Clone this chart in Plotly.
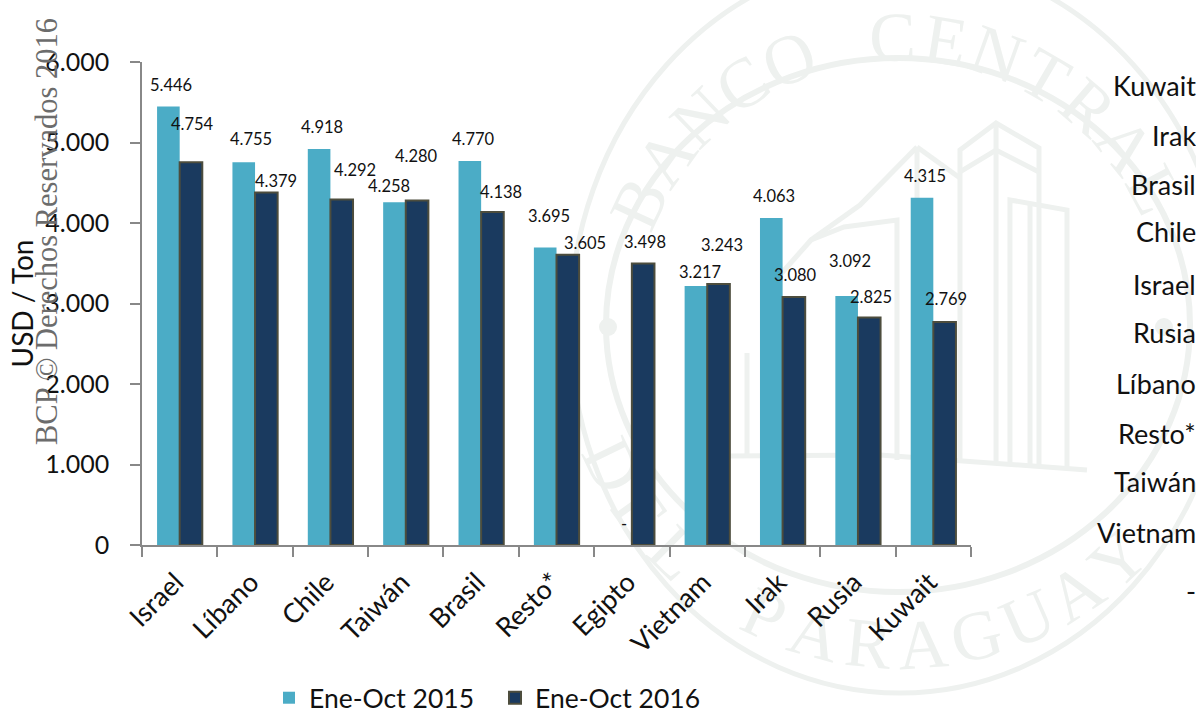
import math
import plotly.graph_objects as go

W, H = 1196, 713
L, R, T, B = 142, 971, 62, 545

categories = ["Israel", "Líbano", "Chile", "Taiwán", "Brasil", "Resto*", "Egipto", "Vietnam", "Irak", "Rusia", "Kuwait"]
ene_oct_2015 = [5446, 4755, 4918, 4258, 4770, 3695, 0, 3217, 4063, 3092, 4315]
ene_oct_2016 = [4754, 4379, 4292, 4280, 4138, 3605, 3498, 3243, 3080, 2825, 2769]
y_ticks = [0, 1000, 2000, 3000, 4000, 5000, 6000]
side_labels = ["Kuwait", "Irak", "Brasil", "Chile", "Israel", "Rusia", "Líbano", "Resto*", "Taiwán", "Vietnam", "-"]

# label placement relative to the top centre of each bar (pixels)
offset_2015 = [(2, 22), (7, 23), (3, 22), (-6, 16), (3, 22), (3, 32), (3, 21), (4, 14), (2, 22), (3, 35), (3, 22)]
offset_2016 = [(2, 38), (10, 11), (14, 29), (0, 44), (9, 20), (17, 12), (2, 21), (4, 39), (2, 22), (2, 21), (2, 23)]
side_y = [85, 135, 184, 232, 284, 332, 383, 433, 481, 532, 590]

FONT = "Lato"
SEAL = "#eef1ef"
px = lambda x: (x - L) / (R - L)
py = lambda y: (B - y) / (B - T)

fmt = lambda v: "-" if v == 0 else f"{v:,}".replace(",", ".")

fig = go.Figure()
fig.add_bar(name="Ene-Oct 2015", x=categories, y=ene_oct_2015, marker=dict(color="#4BACC6", line=dict(width=0)))
fig.add_bar(name="Ene-Oct 2016", x=categories, y=ene_oct_2016,
            marker=dict(color="#1A3A5F", line=dict(color="#4d4d3d", width=2)))

ann = []
for i, c in enumerate(categories):
    for vals, offs, sx in ((ene_oct_2015, offset_2015, -11), (ene_oct_2016, offset_2016, 11)):
        ann.append(dict(x=i, y=vals[i], xref="x", yref="y", text=fmt(vals[i]), showarrow=False,
                        xshift=sx + offs[i][0], yshift=offs[i][1], yanchor="middle",
                        font=dict(family=FONT, size=16.5, color="#111")))
for s, y in zip(side_labels, side_y):
    ann.append(dict(x=px(1196), y=py(y), xref="paper", yref="paper", xanchor="right", yanchor="middle",
                    text=s, showarrow=False, font=dict(family=FONT, size=27, color="#111"), xshift=2))
ann.append(dict(x=px(47), y=py(232), xref="paper", yref="paper", text="BCP © Derechos Reservados 2016",
                xanchor="center", yanchor="middle", textangle=-90, showarrow=False,
                font=dict(family="Liberation Serif", size=30.5, color="#6c6c6c")))

# pale seal in the background
shapes = []
for cx, cy, rx, ry, w in ((900, 325, 330, 368, 5), (898, 325, 292, 267, 6)):
    shapes.append(dict(type="circle", xref="paper", yref="paper", x0=px(cx - rx), x1=px(cx + rx),
                       y0=py(cy + ry), y1=py(cy - ry), layer="below", line=dict(color=SEAL, width=w)))
for cx in (608, 1164):
    shapes.append(dict(type="circle", xref="paper", yref="paper", x0=px(cx - 9), x1=px(cx + 9), y0=py(336), y1=py(318),
                       layer="below", fillcolor=SEAL, line=dict(width=0)))

def arc(text, a0, a1, rad, bottom=False):
    n = len(text)
    for k, ch in enumerate(text):
        if ch == " ":
            continue
        a = math.radians(a0 + (a1 - a0) * k / (n - 1))
        x, y = 900 + rad * math.cos(a), 325 - rad * math.sin(a)
        deg = math.degrees(a)
        rot = (90 - deg) if not bottom else (270 - deg)
        shapes.append(dict(type="rect", xref="paper", yref="paper", x0=px(x - 1), x1=px(x + 1), y0=py(y + 1), y1=py(y - 1),
                           layer="below", line=dict(width=0),
                           label=dict(text=ch, textangle=rot, textposition="middle center",
                                      font=dict(family="Liberation Serif", size=70, color=SEAL))))
arc("BANCO CENTRAL", 155, 28, 296)
arc("DEL PARAGUAY", 206, 313, 312, bottom=True)

def poly(*pts):
    d = "M" + " L".join(f"{px(x):.4f},{py(y):.4f}" for x, y in pts)
    shapes.append(dict(type="path", path=d, xref="paper", yref="paper", layer="below", line=dict(color=SEAL, width=5)))

poly((960, 462), (960, 150), (996, 123), (1039, 148), (1039, 465))
poly((996, 123), (996, 462))
poly((960, 172), (996, 150), (1039, 172))
poly((1010, 462), (1010, 200), (1067, 210), (1067, 467))
poly((1030, 205), (1030, 465))
poly((917, 147), (960, 178))
poly((917, 147), (860, 205), (811, 240), (780, 275), (780, 460))
poly((811, 240), (844, 227), (897, 220), (897, 460))
poly((917, 147), (917, 462))
poly((747, 353), (747, 458))
poly((730, 456), (880, 455), (1087, 470))

fig.update_layout(
    width=W, height=H, autosize=False,
    margin=dict(l=L, r=W - R, t=T, b=H - B, autoexpand=False),
    paper_bgcolor="white", plot_bgcolor="rgba(0,0,0,0)",
    separators=",.", barmode="group", bargap=0.4, bargroupgap=0,
    font=dict(family=FONT, color="#111"),
    annotations=ann, shapes=shapes,
    legend=dict(orientation="h", x=px(269), y=py(698), xanchor="left", yanchor="middle",
                entrywidth=181, entrywidthmode="pixels",
                font=dict(family=FONT, size=26.5, color="#111"), bgcolor="rgba(0,0,0,0)"),
    xaxis=dict(type="category", categoryorder="array", categoryarray=categories, tickson="boundaries", automargin=False,
               ticks="outside", ticklen=10, tickwidth=1.5, tickcolor="#888", showline=True, linecolor="#888", linewidth=1.5,
               showgrid=False, tickangle=-45, ticklabelstandoff=9, ticklabelshift=-4,
               tickfont=dict(family=FONT, size=27, color="#111")),
    yaxis=dict(range=[0, 6000], tickvals=y_ticks, tickformat=",d", ticks="outside", ticklen=10, tickwidth=1.5, automargin=False,
               tickcolor="#888", showline=True, linecolor="#888", linewidth=1.5, showgrid=False, zeroline=False,
               ticklabelstandoff=16, tickfont=dict(family=FONT, size=25, color="#111"),
               title=dict(text="USD / Ton", font=dict(family=FONT, size=28, color="#111"), standoff=4)),
)
fig.write_html("out.html", config=dict(displayModeBar=False), post_script="document.body.style.margin='0';")
